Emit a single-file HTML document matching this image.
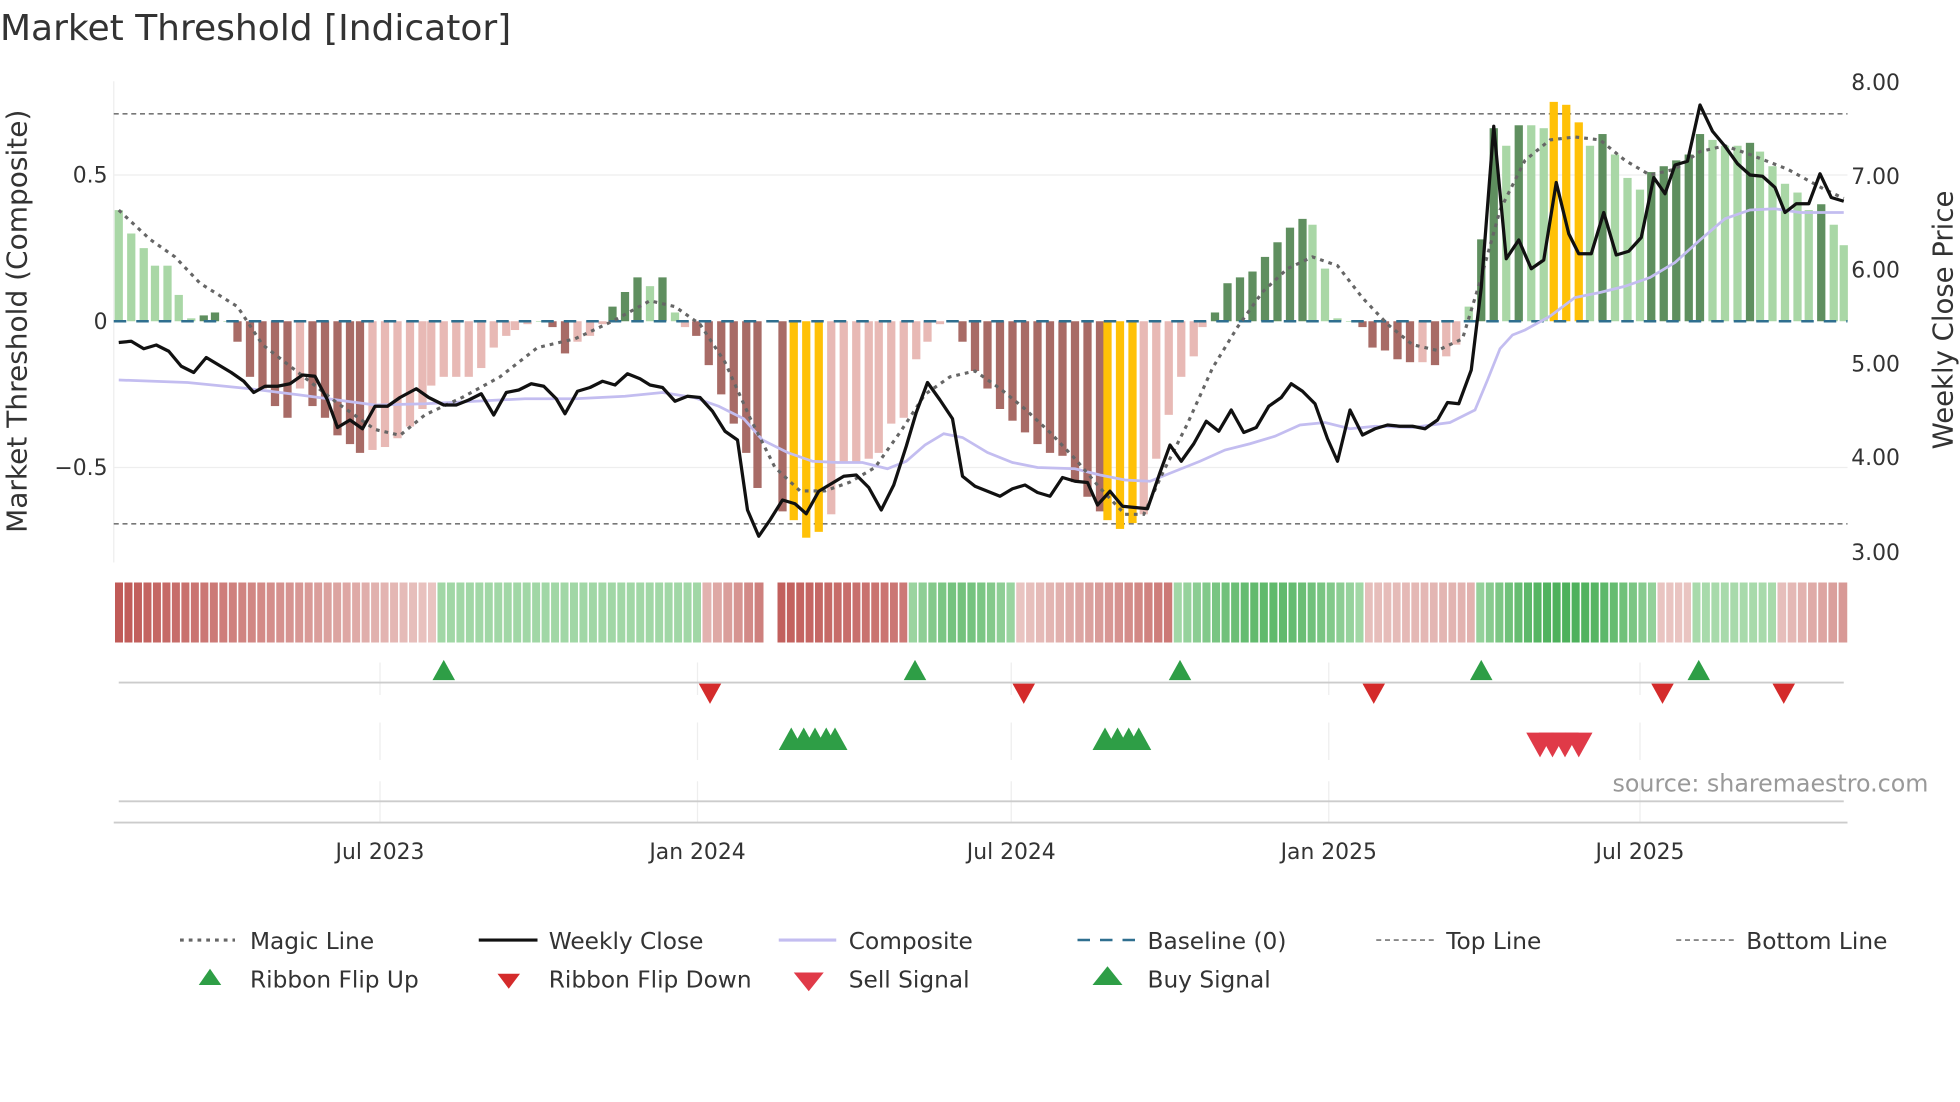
<!DOCTYPE html>
<html><head><meta charset="utf-8">
<style>
html,body{margin:0;padding:0;background:#fff;overflow:hidden;}
#wrap{width:1568px;height:882px;transform:scale(1.25);transform-origin:0 0;position:relative;font-family:"DejaVu Sans","Liberation Sans",sans-serif;color:#333;}
svg text{font-family:"DejaVu Sans","Liberation Sans",sans-serif;fill:#333;}
</style></head><body>
<div id="wrap">
<svg id="s" width="1568" height="882" xmlns="http://www.w3.org/2000/svg">
<text x="0" y="32" font-size="28.8">Market Threshold [Indicator]</text>
<text transform="translate(21,257) rotate(-90)" text-anchor="middle" font-size="22.4">Market Threshold (Composite)</text>
<text transform="translate(1562,256) rotate(-90)" text-anchor="middle" font-size="22">Weekly Close Price</text>
<g font-size="17.5" text-anchor="end">
<text x="86" y="146">0.5</text><text x="86" y="263">0</text><text x="86" y="380">−0.5</text>
</g>
<g font-size="17.5">
<text x="1481" y="72">8.00</text><text x="1481" y="147">7.00</text><text x="1481" y="222">6.00</text>
<text x="1481" y="297">5.00</text><text x="1481" y="372">4.00</text><text x="1481" y="448">3.00</text>
</g>
<g id="grid"></g>
<g id="bars"></g>
<g id="lines"></g>
<g id="rib"></g>
<g id="sig"></g>
<text x="1290" y="633" font-size="19" style="fill:#999">source: sharemaestro.com</text>
<line x1="91" y1="658" x2="1478" y2="658" stroke="#ccc" stroke-width="1.5"/>
<g font-size="17.5" text-anchor="middle">
<text x="304" y="687">Jul 2023</text><text x="558" y="687">Jan 2024</text><text x="809" y="687">Jul 2024</text>
<text x="1063" y="687">Jan 2025</text><text x="1312" y="687">Jul 2025</text>
</g>
<g font-size="18.6">
<line x1="144" y1="752" x2="188" y2="752" stroke="#666" stroke-width="2.5" stroke-dasharray="3,4"/><text x="200" y="759">Magic Line</text>
<line x1="383" y1="752" x2="430" y2="752" stroke="#111" stroke-width="2.5"/><text x="439" y="759">Weekly Close</text>
<line x1="623" y1="752" x2="669" y2="752" stroke="#c3bdf0" stroke-width="2.5"/><text x="679" y="759">Composite</text>
<line x1="862" y1="752" x2="908" y2="752" stroke="#2f6f8f" stroke-width="2" stroke-dasharray="10,8"/><text x="918" y="759">Baseline (0)</text>
<line x1="1101" y1="752" x2="1147" y2="752" stroke="#888" stroke-width="1.5" stroke-dasharray="4,3"/><text x="1157" y="759">Top Line</text>
<line x1="1341" y1="752" x2="1387" y2="752" stroke="#888" stroke-width="1.5" stroke-dasharray="4,3"/><text x="1397" y="759">Bottom Line</text>
<polygon points="159,788 177,788 168,775" fill="#2e9e46"/><text x="200" y="790">Ribbon Flip Up</text>
<polygon points="398,779 416,779 407,791" fill="#d42b2b"/><text x="439" y="790">Ribbon Flip Down</text>
<polygon points="635,778 659,778 647,793" fill="#e03a48"/><text x="679" y="790">Sell Signal</text>
<polygon points="874,788 898,788 886,773" fill="#2e9e46"/><text x="918" y="790">Buy Signal</text>
</g>
</svg>
</div>
<script>
const NS="http://www.w3.org/2000/svg";
function el(p,t,a){const e=document.createElementNS(NS,t);for(const k in a)e.setAttribute(k,a[k]);document.getElementById(p).appendChild(e);return e;}
const Y0=257,U=234;
[140,374].forEach(y=>el("grid","line",{x1:91,x2:1478,y1:y,y2:y,stroke:"#eee"}));
el("grid","line",{x1:91,x2:91,y1:65,y2:450,stroke:"#eee"});
el("grid","line",{x1:91,x2:1478,y1:91,y2:91,stroke:"#777","stroke-dasharray":"4,3","stroke-width":1.3});
el("grid","line",{x1:91,x2:1478,y1:419,y2:419,stroke:"#777","stroke-dasharray":"4,3","stroke-width":1.3});
[304,558,809,1063,1312].forEach(x=>{el("grid","line",{x1:x,x2:x,y1:530,y2:556,stroke:"#eee"});el("grid","line",{x1:x,x2:x,y1:578,y2:608,stroke:"#eee"});el("grid","line",{x1:x,x2:x,y1:625,y2:658,stroke:"#eee"});});
el("grid","line",{x1:95,x2:1475,y1:546,y2:546,stroke:"#ccc","stroke-width":1.5});
el("grid","line",{x1:95,x2:1475,y1:641,y2:641,stroke:"#ccc","stroke-width":1.5});
const B=[95,.38,105,.30,115,.25,124,.19,134,.19,143,.09,153,.01,163,.02,172,.03,182,0,190,-.07,200,-.19,210,-.23,220,-.29,230,-.33,240,-.23,250,-.29,260,-.33,270,-.39,280,-.42,288,-.45,298,-.44,308,-.43,318,-.40,328,-.36,338,-.30,345,-.22,355,-.19,365,-.19,375,-.19,385,-.16,395,-.09,405,-.05,412,-.03,422,-.01,432,0,442,-.02,452,-.11,462,-.07,472,-.05,482,-.01,490,.05,500,.10,510,.15,520,.12,530,.15,540,.03,548,-.02,557,-.05,567,-.15,577,-.25,587,-.35,597,-.45,606,-.57,626,-.65,635,-.68,645,-.74,655,-.72,665,-.66,675,-.48,685,-.48,695,-.47,703,-.45,713,-.35,723,-.33,733,-.13,742,-.07,752,-.01,762,0,770,-.07,780,-.17,790,-.23,800,-.30,810,-.34,820,-.38,830,-.42,840,-.45,850,-.46,860,-.55,870,-.60,880,-.65,886,-.68,896,-.71,906,-.69,915,-.66,925,-.47,935,-.32,945,-.19,955,-.12,962,-.02,972,.03,982,.13,992,.15,1002,.17,1012,.22,1022,.27,1032,.32,1042,.35,1050,.33,1060,.18,1070,.01,1080,0,1090,-.02,1098,-.09,1108,-.10,1118,-.13,1128,-.14,1138,-.14,1148,-.15,1157,-.12,1165,-.08,1175,.05,1185,.28,1195,.66,1205,.60,1215,.67,1225,.67,1235,.66,1243,.75,1253,.74,1263,.68,1272,.60,1282,.64,1292,.57,1302,.49,1312,.45,1321,.51,1331,.53,1341,.55,1351,.57,1360,.64,1370,.62,1380,.60,1390,.60,1400,.61,1408,.58,1418,.53,1428,.47,1438,.44,1447,.38,1457,.40,1467,.33,1475,.26];
let prev=1;
for(let i=0;i<B.length;i+=2){const x=B[i],v=B[i+1];const inc=Math.abs(v)>Math.abs(prev);let c;
 if(Math.abs(v)>=0.68)c="#ffc107";else if(v>=0)c=inc?"#5f8f5f":"#a9d7a6";else c=inc?"#a86b66":"#e8b9b5";
 const h=Math.abs(v)*U;el("bars","rect",{x:x-3.3,y:v>=0?Y0-h:Y0,width:6.6,height:Math.max(h,0.5),fill:c});prev=v;}
el("bars","line",{x1:91,x2:1478,y1:Y0,y2:Y0,stroke:"#2f6f8f","stroke-width":2,"stroke-dasharray":"10,8"});
function poly(arr,conv,attrs){let p=[];for(let i=0;i<arr.length;i+=2)p.push(arr[i]+","+conv(arr[i+1]));attrs.points=p.join(" ");attrs.fill="none";el("lines","polyline",attrs);}
const C=[95,304,150,306,200,311,240,316,270,320,300,324,340,323,380,321,420,319,460,319,500,317,530,314,555,318,575,325,595,335,610,352,630,362,650,369,670,370,690,370,710,375,725,369,740,356,755,347,770,350,790,362,810,370,830,374,860,375,880,380,900,384,920,385,940,377,960,369,980,360,1000,355,1020,349,1040,340,1060,338,1080,343,1100,341,1130,342,1160,338,1180,328,1190,304,1200,279,1210,268,1220,264,1240,253,1260,238,1280,234,1300,229,1320,222,1340,210,1360,192,1380,175,1400,168,1420,167,1440,170,1460,170,1475,170];
poly(C,v=>v,{stroke:"#c3bdf0","stroke-width":2.2});
const M=[95,.38,120,.28,140,.22,160,.13,190,.05,210,-.08,240,-.18,270,-.28,300,-.37,320,-.39,340,-.32,370,-.26,400,-.19,430,-.09,460,-.06,490,0,520,.07,540,.05,560,-.01,580,-.14,600,-.33,620,-.50,640,-.58,660,-.58,680,-.55,700,-.5,720,-.38,740,-.25,760,-.19,780,-.17,800,-.23,820,-.30,840,-.38,860,-.47,880,-.57,900,-.66,915,-.66,930,-.52,950,-.35,970,-.16,990,-.02,1010,.10,1030,.18,1050,.22,1070,.19,1090,.08,1110,-.01,1130,-.08,1150,-.10,1170,-.06,1185,.15,1200,.38,1220,.55,1240,.62,1260,.63,1280,.62,1300,.55,1320,.50,1340,.52,1360,.58,1380,.60,1400,.57,1430,.52,1460,.45,1475,.42];
poly(M,v=>Y0-v*U,{stroke:"#666","stroke-width":2.5,"stroke-dasharray":"3,4"});
const W=[95,274,105,273,115,279,125,276,135,281,145,293,155,298,165,286,175,292,185,298,195,305,203,314,212,309,222,309,232,307,242,300,252,301,262,320,270,342,280,336,290,343,300,325,310,325,320,318,333,311,343,318,355,324,365,324,375,320,385,315,395,332,405,314,415,312,425,307,435,309,445,319,452,331,462,313,472,310,482,305,492,308,502,299,512,303,520,308,530,310,540,321,550,317,560,318,570,329,580,345,590,352,598,408,607,429,616,416,626,400,636,403,645,411,655,393,665,387,675,381,685,380,695,390,705,408,715,388,725,357,733,330,742,306,752,320,762,335,770,381,780,389,790,393,800,397,810,391,820,388,830,394,840,397,850,382,860,385,870,386,878,404,888,393,898,405,908,406,918,407,928,378,936,356,945,369,955,355,965,337,975,345,985,328,995,346,1005,342,1015,325,1025,318,1033,307,1042,313,1052,323,1062,351,1070,369,1080,328,1090,348,1100,343,1110,340,1120,341,1130,341,1140,343,1150,336,1158,322,1167,323,1177,296,1185,230,1195,101,1205,207,1215,192,1225,215,1235,208,1245,146,1255,187,1263,203,1273,203,1283,170,1293,204,1303,201,1313,190,1323,142,1332,155,1340,132,1350,129,1360,84,1370,105,1380,117,1390,131,1400,140,1410,141,1420,150,1428,170,1437,163,1447,163,1456,139,1465,158,1475,161];
poly(W,v=>v,{stroke:"#111","stroke-width":2.6,"stroke-linejoin":"round"});
const R=[[92,350,"r"],[350,562,"g"],[562,612,"r"],[622,727,"r"],[727,813,"g"],[813,939,"r"],[939,1092,"g"],[1092,1181,"r"],[1181,1326,"g"],[1326,1354,"r"],[1354,1422,"g"],[1422,1479,"r"]];
R.forEach(([a,b,t],si)=>{const n=Math.max(1,Math.round((b-a)/7.7));const w=(b-a)/n;
 for(let i=0;i<n;i++){let f;const pos=i/(n-1||1);
  if(t==="r"){ if(si===0)f=1-pos*0.85; else if(si===2)f=0.3+pos*0.4; else if(si===3)f=0.95-pos*0.2; else if(si===5)f=0.15+pos*0.6; else if(si===7)f=0.2+pos*0.1; else if(si===9)f=0.15; else f=0.2+pos*0.3; }
  else { if(si===1)f=0.3; else if(si===4)f=0.35+0.3*Math.sin(pos*3.14); else if(si===6)f=0.3+0.5*Math.sin(pos*3.14); else if(si===8)f=0.4+0.55*Math.sin(pos*3.14); else f=0.25; }
  let c;
  if(t==="r"){c=`rgb(${Math.round(240-48*f)},${Math.round(215-125*f)},${Math.round(212-125*f)})`;}
  else{c=`rgb(${Math.round(200-130*f)},${Math.round(232-58*f)},${Math.round(200-115*f)})`;}
  el("rib","rect",{x:a+i*w,y:466,width:w-1.2,height:48,fill:c});}
});
function up(x,y,c,s){el("sig","polygon",{points:`${x-s},${y+s*0.9} ${x+s},${y+s*0.9} ${x},${y-s*0.9}`,fill:c});}
function dn(x,y,c,s){el("sig","polygon",{points:`${x-s},${y-s*0.9} ${x+s},${y-s*0.9} ${x},${y+s*0.9}`,fill:c});}
[355,732,944,1185,1359].forEach(x=>up(x,536,"#2e9e46",9));
[568,819,1099,1330,1427].forEach(x=>dn(x,555,"#d42b2b",9));
[633,643,652,661,668,884,894,903,911].forEach(x=>up(x,591,"#2e9e46",10));
[1232,1242,1252,1263].forEach(x=>dn(x,596,"#e03a48",11));
</script>
</body></html>
